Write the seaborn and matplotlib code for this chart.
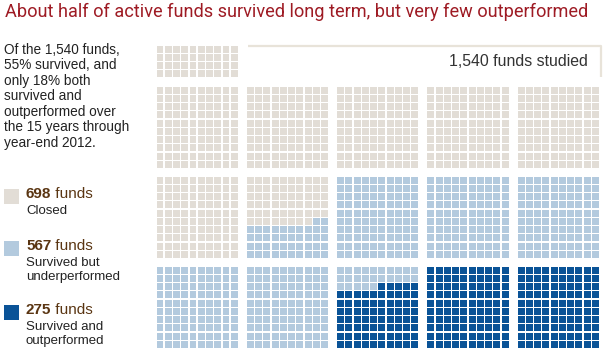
import numpy as np
import pandas as pd
import seaborn as sns
import matplotlib.pyplot as plt
from matplotlib.patches import Rectangle

# fund counts
categories = ["Closed", "Survived but underperformed", "Survived and outperformed"]
counts = [698, 567, 275]
count_labels = ["698", "567", "275"]
sub_labels = ["Closed", "Survived but\nunderperformed", "Survived and\noutperformed"]
colors = ["#e2ddd6", "#b3cade", "#0a5397"]
total_label = "1,540 funds studied"
title = "About half of active funds survived long term, but very few outperformed"
intro = ("Of the 1,540 funds,\n55% survived, and\nonly 18% both\nsurvived and\n"
         "outperformed over\nthe 15 years through\nyear-end 2012.")

# layout of the waffle (pixels)
left, top = 156.8, 87.0
cell = 8.25
block_dx, block_dy = 90.3, 90.0
top_strip_y = 46.0

# build cells: 40-cell strip on top, then 15 blocks of 10x10
xs, ys = [], []
for r in range(4):
    for c in range(10):
        xs.append(left + c * cell)
        ys.append(top_strip_y + r * cell)
for br in range(3):
    for bc in range(5):
        for r in range(10):
            for c in range(10):
                xs.append(left + bc * block_dx + c * cell)
                ys.append(top + br * block_dy + r * cell)

cat = np.repeat(categories, counts)
df = pd.DataFrame({"x": np.array(xs) + 3.2, "y": np.array(ys) + 3.2, "category": cat})

sns.set_style("white")
plt.rcParams['font.family'] = ['Liberation Sans', 'DejaVu Sans']

fig = plt.figure(figsize=(6.07, 3.55), dpi=100)
ax = fig.add_axes([0, 0, 1, 1])
ax.set_xlim(0, 607)
ax.set_ylim(355, 0)
ax.axis("off")

sns.scatterplot(data=df, x="x", y="y", hue="category", hue_order=categories,
                palette=colors, marker="s", s=25, linewidth=0, legend=False, ax=ax)

# bracket
ax.plot([248, 601, 601], [46, 46, 77], color="#e8e3d9", lw=1.6, solid_capstyle="butt")
ax.text(588, 62, total_label, ha="right", va="center", fontsize=11.4, color="#333333")

ax.text(5, 12, title, ha="left", va="center", fontsize=13.1, color="#9e1b24",
        family=["Roboto", "DejaVu Sans"])
ax.text(4, 43, intro, ha="left", va="top", fontsize=9.8, color="#222222",
        linespacing=1.13)

# legend
leg_y = [189, 241, 305]
for i in range(3):
    y = leg_y[i]
    ax.add_patch(Rectangle((4, y), 14.5, 14.5, color=colors[i], lw=0))
    t = ax.text(26, y + 5.5, count_labels[i], ha="left", va="center", fontsize=11,
                fontweight="bold", color="#5a3512")
    ax.annotate(" funds", xycoords=t, xy=(1, 0.5), va="center", ha="left",
                fontsize=11, color="#5a3512")
    ax.text(26, y + 16, sub_labels[i], ha="left", va="top", fontsize=9.5,
            color="#222222", linespacing=1.22)

plt.savefig("out.png", dpi=100)
